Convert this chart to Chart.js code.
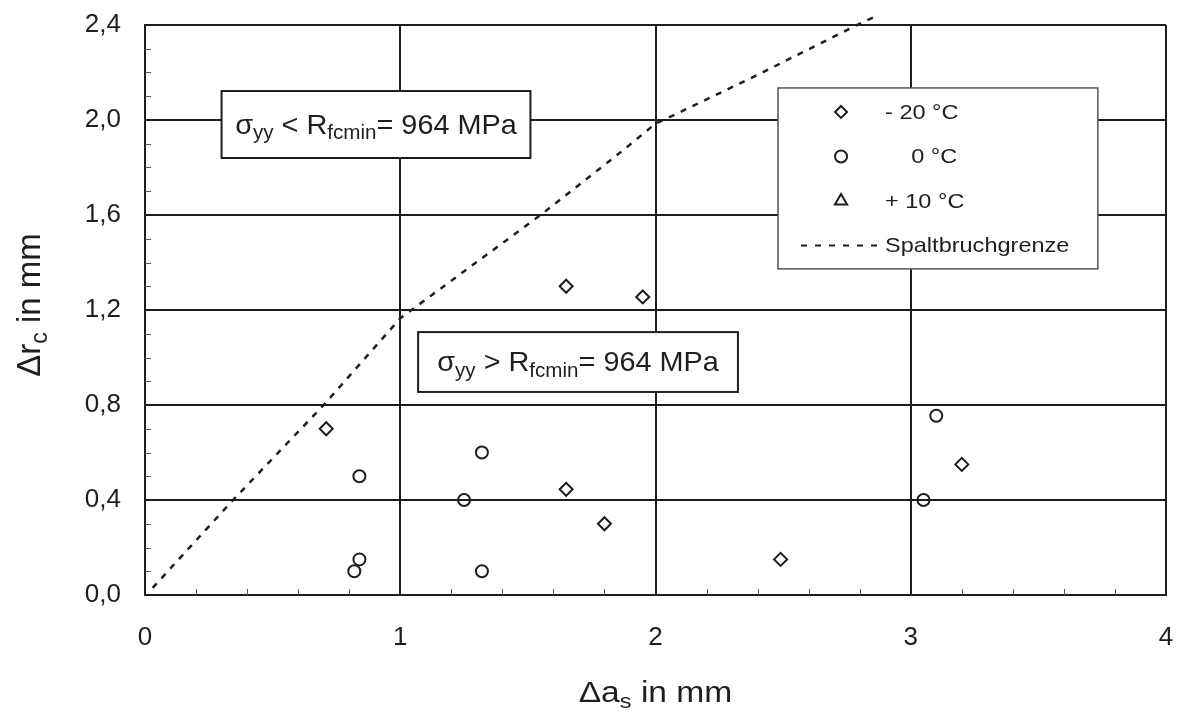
<!DOCTYPE html>
<html>
<head>
<meta charset="utf-8">
<script src="https://cdn.jsdelivr.net/npm/chart.js@4.4.0/dist/chart.umd.min.js"></script>
<style>
  html, body { margin: 0; padding: 0; background: #fff; }
  #chart { display: block; }
</style>
</head>
<body>
<canvas id="chart" width="1178" height="712"></canvas>
<script>
// Achsen
const xTicks = [0, 1, 2, 3, 4];
const xTickLabels = ['0', '1', '2', '3', '4'];
const yTicks = [0, 0.4, 0.8, 1.2, 1.6, 2.0, 2.4];
const yTickLabels = ['0,0', '0,4', '0,8', '1,2', '1,6', '2,0', '2,4'];

// Serien
const seriesLabels = ['- 20 °C', '    0 °C', '+ 10 °C', 'Spaltbruchgrenze'];

const minus20X = [0.71, 1.65, 1.95, 1.65, 1.80, 2.49, 3.20];
const minus20Y = [0.70, 1.30, 1.255, 0.445, 0.30, 0.15, 0.55];

const zeroX = [0.84, 0.84, 0.82, 1.25, 1.32, 1.32, 3.10, 3.05];
const zeroY = [0.50, 0.15, 0.10, 0.40, 0.60, 0.10, 0.755, 0.40];

const plus10X = [];
const plus10Y = [];

const limitX = [0.03, 0.345, 0.70, 1.00, 1.55, 1.87, 2.00, 2.10, 2.40, 2.79, 2.87];
const limitY = [0.03, 0.40, 0.80, 1.165, 1.60, 1.87, 1.985, 2.035, 2.19, 2.40, 2.44];

const FONT = "'Liberation Sans', Arial, Helvetica, sans-serif";
const INK = '#1e1e1e';
const STRETCH = 1.12; // Schrift im Original etwas breit gezogen

function toPoints(xs, ys) {
    return xs.map((x, i) => ({ x: x, y: ys[i] }));
}

// Text mit Tiefstellung zeichnen
function drawRich(ctx, parts, x, y, size, align) {
    const subSize = Math.round(size * 0.7);
    let w = 0;
    parts.forEach(p => {
        ctx.font = (p.sub ? subSize : size) + 'px ' + FONT;
        p.w = ctx.measureText(p.t).width;
        w += p.w;
    });
    let cx = align === 'center' ? x - w / 2 : x;
    ctx.textBaseline = 'alphabetic';
    ctx.textAlign = 'left';
    parts.forEach(p => {
        ctx.font = (p.sub ? subSize : size) + 'px ' + FONT;
        ctx.fillText(p.t, cx, p.sub ? y + size * 0.2 : y);
        cx += p.w;
    });
}

// Textfelder im Diagramm (Datenkoordinaten der Ecken)
const notes = [
    { x0: 0.30, x1: 1.51, y0: 2.122, y1: 1.84,
      parts: [{ t: 'σ' }, { t: 'yy', sub: true }, { t: ' < R' }, { t: 'fcmin', sub: true }, { t: '= 964 MPa' }] },
    { x0: 1.07, x1: 2.323, y0: 1.107, y1: 0.855,
      parts: [{ t: 'σ' }, { t: 'yy', sub: true }, { t: ' > R' }, { t: 'fcmin', sub: true }, { t: '= 964 MPa' }] }
];

const extrasPlugin = {
    id: 'extras',
    afterDatasetsDraw(chart) {
        const ctx = chart.ctx;
        const xs = chart.scales.x;
        const ys = chart.scales.y;
        const area = chart.chartArea;

        // kleine Teilstriche nach innen
        ctx.save();
        ctx.strokeStyle = '#555';
        ctx.lineWidth = 1;
        for (let v = 0.2; v < 4; v += 0.2) {
            if (Math.abs(v - Math.round(v)) < 0.01) continue;
            const px = Math.round(xs.getPixelForValue(v)) + 0.5;
            ctx.beginPath();
            ctx.moveTo(px, area.bottom);
            ctx.lineTo(px, area.bottom - 6);
            ctx.stroke();
        }
        for (let v = 0.1; v < 2.4; v += 0.1) {
            if (Math.abs(v / 0.4 - Math.round(v / 0.4)) < 0.01) continue;
            const py = Math.round(ys.getPixelForValue(v)) + 0.5;
            ctx.beginPath();
            ctx.moveTo(area.left, py);
            ctx.lineTo(area.left + 6, py);
            ctx.stroke();
        }
        ctx.restore();

        // Textfelder
        notes.forEach(n => {
            const l = xs.getPixelForValue(n.x0), r = xs.getPixelForValue(n.x1);
            const t = ys.getPixelForValue(n.y0), b = ys.getPixelForValue(n.y1);
            ctx.save();
            ctx.fillStyle = '#fff';
            ctx.fillRect(l, t, r - l, b - t);
            ctx.strokeStyle = INK;
            ctx.lineWidth = 2;
            ctx.strokeRect(l, t, r - l, b - t);
            ctx.fillStyle = INK;
            const cx = (l + r) / 2;
            ctx.translate(cx, (t + b) / 2 + 9);
            ctx.scale(1.03, 1);
            drawRich(ctx, n.parts, 0, 0, 28, 'center');
            ctx.restore();
        });

        // Legende
        const lx0 = xs.getPixelForValue(2.48), lx1 = xs.getPixelForValue(3.733);
        const ly0 = ys.getPixelForValue(2.135), ly1 = ys.getPixelForValue(1.373);
        ctx.save();
        ctx.fillStyle = '#fff';
        ctx.fillRect(lx0, ly0, lx1 - lx0, ly1 - ly0);
        ctx.strokeStyle = '#555';
        ctx.lineWidth = 1.5;
        ctx.strokeRect(lx0, ly0, lx1 - lx0, ly1 - ly0);
        chart.data.datasets.forEach((ds, i) => {
            const rowY = ly0 + 24 + i * 44.5;
            const mx = lx0 + 63;
            ctx.strokeStyle = INK;
            ctx.fillStyle = 'rgba(0,0,0,0)';
            if (ds.showLine) {
                ctx.lineWidth = 2;
                ctx.setLineDash([6, 8]);
                ctx.beginPath();
                ctx.moveTo(lx0 + 23, rowY);
                ctx.lineTo(lx0 + 105, rowY);
                ctx.stroke();
                ctx.setLineDash([]);
            } else {
                ctx.lineWidth = 2;
                Chart.helpers.drawPoint(ctx, {
                    pointStyle: ds.pointStyle,
                    radius: ds.pointStyle === 'triangle' ? 7 : 6,
                    borderWidth: 2,
                    rotation: 0
                }, mx, rowY);
            }
            ctx.save();
            ctx.fillStyle = INK;
            ctx.translate(lx0 + 107, rowY + 7);
            ctx.scale(STRETCH, 1);
            drawRich(ctx, [{ t: ds.label }], 0, 0, 21, 'left');
            ctx.restore();
        });
        ctx.restore();

        // Achsentitel
        ctx.save();
        ctx.fillStyle = INK;
        ctx.translate((area.left + area.right) / 2, 702);
        ctx.scale(STRETCH, 1);
        drawRich(ctx, [{ t: 'Δa' }, { t: 's', sub: true }, { t: ' in mm' }], 0, 0, 30, 'center');
        ctx.restore();

        ctx.save();
        ctx.fillStyle = INK;
        ctx.translate(40, (area.top + area.bottom) / 2 - 5);
        ctx.rotate(-Math.PI / 2);
        ctx.scale(1.1, STRETCH);
        drawRich(ctx, [{ t: 'Δr' }, { t: 'c', sub: true }, { t: ' in mm' }], 0, 0, 30, 'center');
        ctx.restore();
    }
};

const gridStyle = {
    color: INK,
    lineWidth: 2,
    drawTicks: false
};

new Chart(document.getElementById('chart'), {
    type: 'scatter',
    data: {
        datasets: [
            {
                label: seriesLabels[0],
                data: toPoints(minus20X, minus20Y),
                pointStyle: 'rectRot',
                pointRadius: 6.5,
                pointBorderWidth: 2,
                borderColor: INK,
                backgroundColor: 'rgba(0,0,0,0)'
            },
            {
                label: seriesLabels[1],
                data: toPoints(zeroX, zeroY),
                pointStyle: 'circle',
                pointRadius: 6,
                pointBorderWidth: 2,
                borderColor: INK,
                backgroundColor: 'rgba(0,0,0,0)'
            },
            {
                label: seriesLabels[2],
                data: toPoints(plus10X, plus10Y),
                pointStyle: 'triangle',
                pointRadius: 7,
                pointBorderWidth: 2,
                borderColor: INK,
                backgroundColor: 'rgba(0,0,0,0)'
            },
            {
                label: seriesLabels[3],
                data: toPoints(limitX, limitY),
                showLine: true,
                pointRadius: 0,
                borderColor: INK,
                borderWidth: 2.5,
                borderDash: [6, 7],
                tension: 0,
                clip: 12
            }
        ]
    },
    options: {
        responsive: false,
        animation: false,
        layout: { padding: { top: 25, right: 12, left: 0, bottom: 0 } },
        plugins: {
            legend: { display: false },
            tooltip: { enabled: false }
        },
        scales: {
            x: {
                type: 'linear',
                min: 0,
                max: 4,
                grid: gridStyle,
                border: { color: INK, width: 2 },
                afterBuildTicks: s => { s.ticks = xTicks.map(v => ({ value: v })); },
                afterFit: s => {
                    s.height = 117;
                    s.paddingLeft = 0;
                    s.paddingRight = 0;
                },
                ticks: {
                    color: INK,
                    padding: 27,
                    font: { family: FONT, size: 26 },
                    callback: (v, i) => xTickLabels[i]
                }
            },
            y: {
                type: 'linear',
                min: 0,
                max: 2.4,
                grid: gridStyle,
                border: { color: INK, width: 2 },
                afterBuildTicks: s => { s.ticks = yTicks.map(v => ({ value: v })); },
                afterFit: s => {
                    s.width = 145;
                    s.paddingTop = 0;
                    s.paddingBottom = 0;
                },
                ticks: {
                    color: INK,
                    padding: 24,
                    font: { family: FONT, size: 26 },
                    callback: (v, i) => yTickLabels[i]
                }
            }
        }
    },
    plugins: [extrasPlugin]
});
</script>
</body>
</html>
